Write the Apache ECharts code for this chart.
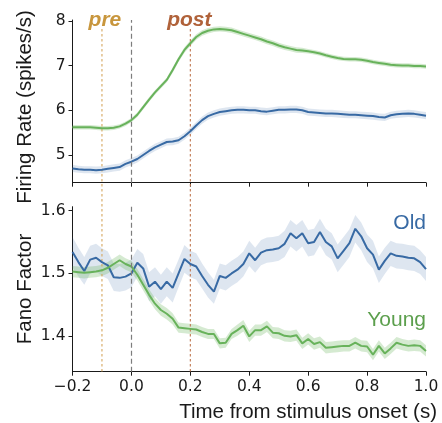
<!DOCTYPE html>
<html>
<head>
<meta charset="utf-8">
<script src="https://cdn.jsdelivr.net/npm/echarts@6/dist/echarts.min.js"></script>
<style>
  html, body { margin: 0; padding: 0; background: #ffffff; }
  #chart { width: 442px; height: 423px; }
</style>
</head>
<body>
<div id="chart"></div>
<script>
// Time bins (s) relative to stimulus onset
const time = [
  -0.20, -0.18, -0.16, -0.14, -0.12, -0.10, -0.08, -0.06, -0.04, -0.02,
   0.00,  0.02,  0.04,  0.06,  0.08,  0.10,  0.12,  0.14,  0.16,  0.18,
   0.20,  0.22,  0.24,  0.26,  0.28,  0.30,  0.32,  0.34,  0.36,  0.38,
   0.40,  0.42,  0.44,  0.46,  0.48,  0.50,  0.52,  0.54,  0.56,  0.58,
   0.60,  0.62,  0.64,  0.66,  0.68,  0.70,  0.72,  0.74,  0.76,  0.78,
   0.80,  0.82,  0.84,  0.86,  0.88,  0.90,  0.92,  0.94,  0.96,  0.98, 1.00
];

// Firing rate (spikes/s), mean and s.e.m.
const rateYoung = [
  5.62, 5.62, 5.62, 5.62, 5.61, 5.60, 5.60, 5.61, 5.64, 5.70,
  5.78, 5.90, 6.07, 6.24, 6.40, 6.54, 6.68, 6.90, 7.14, 7.35,
  7.50, 7.64, 7.73, 7.78, 7.81, 7.82, 7.81, 7.79, 7.75, 7.71,
  7.67, 7.63, 7.59, 7.54, 7.50, 7.45, 7.41, 7.38, 7.35, 7.34,
  7.32, 7.30, 7.27, 7.23, 7.20, 7.17, 7.15, 7.14, 7.14, 7.13,
  7.11, 7.08, 7.06, 7.04, 7.02, 7.01, 7.00, 7.00, 6.99, 6.99, 6.98
];
const rateYoungSem = [
  0.05, 0.05, 0.05, 0.05, 0.05, 0.05, 0.05, 0.05, 0.05, 0.05,
  0.05, 0.05, 0.05, 0.05, 0.05, 0.05, 0.05, 0.06, 0.06, 0.06,
  0.06, 0.06, 0.06, 0.06, 0.06, 0.06, 0.06, 0.06, 0.06, 0.06,
  0.06, 0.06, 0.06, 0.06, 0.06, 0.06, 0.06, 0.06, 0.06, 0.06,
  0.05, 0.05, 0.05, 0.05, 0.05, 0.05, 0.05, 0.05, 0.05, 0.05,
  0.05, 0.05, 0.05, 0.05, 0.05, 0.05, 0.05, 0.05, 0.05, 0.05, 0.05
];
const rateOld = [
  4.70, 4.68, 4.67, 4.67, 4.66, 4.67, 4.69, 4.71, 4.73, 4.80,
  4.85, 4.91, 5.00, 5.09, 5.17, 5.23, 5.29, 5.30, 5.33, 5.42,
  5.53, 5.66, 5.78, 5.87, 5.92, 5.96, 5.98, 6.00, 6.01, 6.01,
  6.00, 6.00, 5.98, 5.97, 5.99, 6.01, 6.01, 6.02, 6.02, 6.00,
  5.96, 5.95, 5.94, 5.93, 5.93, 5.92, 5.91, 5.90, 5.90, 5.89,
  5.88, 5.87, 5.85, 5.84, 5.89, 5.91, 5.92, 5.93, 5.92, 5.90, 5.88
];
const rateOldSem = [
  0.08, 0.08, 0.08, 0.08, 0.08, 0.08, 0.08, 0.08, 0.08, 0.08,
  0.08, 0.08, 0.08, 0.08, 0.08, 0.08, 0.08, 0.08, 0.08, 0.08,
  0.08, 0.08, 0.08, 0.08, 0.08, 0.08, 0.08, 0.08, 0.08, 0.08,
  0.08, 0.08, 0.08, 0.08, 0.08, 0.08, 0.08, 0.08, 0.08, 0.08,
  0.08, 0.08, 0.08, 0.08, 0.08, 0.08, 0.08, 0.08, 0.08, 0.08,
  0.08, 0.08, 0.08, 0.08, 0.08, 0.08, 0.08, 0.08, 0.08, 0.08, 0.08
];

// Fano factor, mean and s.e.m.
const fanoOld = [
  1.534, 1.518, 1.504, 1.522, 1.525, 1.518, 1.513, 1.494, 1.493, 1.495,
  1.500, 1.517, 1.508, 1.479, 1.487, 1.475, 1.487, 1.477, 1.500, 1.523,
  1.515, 1.511, 1.496, 1.482, 1.471, 1.496, 1.493, 1.500, 1.506, 1.515,
  1.532, 1.521, 1.533, 1.537, 1.538, 1.540, 1.547, 1.564, 1.556, 1.564,
  1.548, 1.550, 1.566, 1.550, 1.543, 1.524, 1.536, 1.548, 1.571, 1.559,
  1.540, 1.530, 1.506, 1.520, 1.532, 1.528, 1.527, 1.525, 1.524, 1.518, 1.507
];
const fanoOldSem = [
  0.024, 0.023, 0.022, 0.022, 0.022, 0.022, 0.022, 0.022, 0.022, 0.022,
  0.022, 0.022, 0.023, 0.023, 0.023, 0.023, 0.023, 0.023, 0.022, 0.022,
  0.021, 0.021, 0.020, 0.020, 0.019, 0.020, 0.020, 0.020, 0.020, 0.020,
  0.020, 0.020, 0.020, 0.020, 0.020, 0.020, 0.021, 0.021, 0.021, 0.021,
  0.021, 0.021, 0.021, 0.021, 0.021, 0.022, 0.022, 0.022, 0.022, 0.022,
  0.022, 0.022, 0.021, 0.021, 0.020, 0.020, 0.020, 0.020, 0.020, 0.019, 0.019
];
const fanoYoung = [
  1.503, 1.502, 1.501, 1.502, 1.503, 1.505, 1.509, 1.515, 1.521, 1.515,
  1.511, 1.498, 1.482, 1.466, 1.452, 1.442, 1.436, 1.428, 1.414, 1.413,
  1.412, 1.411, 1.407, 1.404, 1.404, 1.389, 1.390, 1.404, 1.410, 1.417,
  1.400, 1.410, 1.410, 1.416, 1.406, 1.405, 1.401, 1.400, 1.402, 1.389,
  1.396, 1.388, 1.391, 1.382, 1.383, 1.384, 1.385, 1.385, 1.390, 1.385,
  1.384, 1.371, 1.385, 1.373, 1.381, 1.390, 1.387, 1.385, 1.386, 1.385, 1.377
];
const fanoYoungSem = [
  0.009, 0.009, 0.009, 0.009, 0.009, 0.009, 0.009, 0.009, 0.009, 0.009,
  0.009, 0.009, 0.009, 0.009, 0.009, 0.009, 0.009, 0.009, 0.008, 0.008,
  0.008, 0.008, 0.008, 0.008, 0.008, 0.008, 0.008, 0.008, 0.009, 0.009,
  0.009, 0.009, 0.009, 0.009, 0.009, 0.009, 0.009, 0.009, 0.009, 0.009,
  0.009, 0.009, 0.009, 0.009, 0.009, 0.009, 0.009, 0.009, 0.009, 0.009,
  0.009, 0.009, 0.009, 0.009, 0.009, 0.009, 0.009, 0.009, 0.009, 0.009, 0.009
];

// Axis ranges and tick labels
const timeRange = [-0.2, 1.0];
const timeTicks = [-0.2, 0.0, 0.2, 0.4, 0.6, 0.8, 1.0];
const rateRange = [4.38, 8.02];
const rateTicks = [5, 6, 7, 8];
const fanoRange = [1.344, 1.606];
const fanoTicks = [1.4, 1.5, 1.6];

// Analysis windows and stimulus onset
const preTime = -0.1;
const postTime = 0.2;
const onsetTime = 0.0;

const BLUE = '#386aa4';
const GREEN = '#68b25b';
const BLUE_BAND = 'rgba(59,107,165,0.17)';
const GREEN_BAND = 'rgba(104,178,91,0.28)';
const INK = '#1a1a1a';
const TICK_FONT = 'DejaVu Sans';
const LABEL_FONT = '"Liberation Sans", Arial, sans-serif';

const chart = echarts.init(document.getElementById('chart'), null, { renderer: 'canvas' });

function pairs(values) {
  return time.map((t, i) => [t, values[i]]);
}

// Shaded mean ± s.e.m. band drawn as one polygon
function band(mean, sem, axisIdx, fill) {
  return {
    type: 'custom',
    xAxisIndex: axisIdx,
    yAxisIndex: axisIdx,
    silent: true,
    z: 1,
    data: pairs(mean),
    encode: { x: 0, y: 1 },
    renderItem(params, api) {
      if (params.dataIndex !== 0) return null;
      const upper = time.map((t, i) => api.coord([t, mean[i] + sem[i]]));
      const lower = time.map((t, i) => api.coord([t, mean[i] - sem[i]])).reverse();
      return {
        type: 'polygon',
        shape: { points: upper.concat(lower) },
        style: { fill: fill, stroke: null }
      };
    }
  };
}

function meanLine(values, axisIdx, color, withOnset) {
  const s = {
    type: 'line',
    xAxisIndex: axisIdx,
    yAxisIndex: axisIdx,
    data: pairs(values),
    showSymbol: false,
    symbol: 'none',
    silent: true,
    z: 3,
    lineStyle: { color: color, width: 2 },
    itemStyle: { color: color }
  };
  if (withOnset) {
    s.markLine = {
      silent: true,
      symbol: ['none', 'none'],
      label: { show: false },
      lineStyle: { color: '#7d7d7d', width: 1.2, type: [5, 3] },
      emphasis: { disabled: true },
      data: [{ xAxis: onsetTime }]
    };
  }
  return s;
}

const axisLine = { show: true, onZero: false, lineStyle: { color: INK, width: 1 } };
function ticks(values) {
  return { show: true, inside: false, length: 4, customValues: values, lineStyle: { color: INK, width: 1 } };
}
function labels(values, fmt, margin) {
  return {
    show: true, customValues: values, formatter: fmt, margin: margin,
    color: INK, fontFamily: TICK_FONT, fontSize: 15.5
  };
}
const fmtTime = v => (v < -1e-9 ? '\u2212' : '') + Math.abs(v).toFixed(1);

chart.setOption({
  animation: false,
  backgroundColor: '#ffffff',
  grid: [
    { left: 72.5, top: 20, width: 353.5, height: 162.7, containLabel: false, outerBoundsMode: 'none' },
    { left: 72.5, top: 206.7, width: 353.5, height: 165, containLabel: false, outerBoundsMode: 'none' }
  ],
  xAxis: [
    { type: 'value', gridIndex: 0, min: timeRange[0], max: timeRange[1],
      axisLine: axisLine, axisTick: ticks(timeTicks), axisLabel: { show: false }, splitLine: { show: false } },
    { type: 'value', gridIndex: 1, min: timeRange[0], max: timeRange[1],
      axisLine: axisLine, axisTick: ticks(timeTicks), axisLabel: labels(timeTicks, fmtTime, 7.5), splitLine: { show: false } }
  ],
  yAxis: [
    { type: 'value', gridIndex: 0, min: rateRange[0], max: rateRange[1],
      axisLine: axisLine, axisTick: ticks(rateTicks), axisLabel: labels(rateTicks, v => String(Math.round(v)), 7), splitLine: { show: false } },
    { type: 'value', gridIndex: 1, min: fanoRange[0], max: fanoRange[1],
      axisLine: axisLine, axisTick: ticks(fanoTicks), axisLabel: labels(fanoTicks, v => v.toFixed(1), 7), splitLine: { show: false } }
  ],
  series: [
    band(rateYoung, rateYoungSem, 0, GREEN_BAND),
    band(rateOld, rateOldSem, 0, BLUE_BAND),
    meanLine(rateYoung, 0, GREEN, true),
    meanLine(rateOld, 0, BLUE, false),
    band(fanoOld, fanoOldSem, 1, BLUE_BAND),
    band(fanoYoung, fanoYoungSem, 1, GREEN_BAND),
    meanLine(fanoOld, 1, BLUE, true),
    meanLine(fanoYoung, 1, GREEN, false)
  ]
});

// Window markers span both panels, so they are placed from the axis scales
const xPre = chart.convertToPixel({ xAxisIndex: 1 }, preTime);
const xPost = chart.convertToPixel({ xAxisIndex: 1 }, postTime);
const yTop = chart.convertToPixel({ yAxisIndex: 0 }, 7.82);
const yBottom = chart.convertToPixel({ yAxisIndex: 1 }, fanoRange[0]);

function windowLine(x, color) {
  return {
    type: 'line', silent: true, z: 2,
    shape: { x1: x, y1: yTop, x2: x, y2: yBottom },
    style: { stroke: color, lineWidth: 1.1, lineDash: [2.5, 2.5] }
  };
}
function text(str, x, y, opts) {
  return Object.assign({
    type: 'text', silent: true, z: 10, x: x, y: y,
    style: Object.assign({ text: str, fill: INK, font: '20.5px ' + LABEL_FONT, align: 'center', verticalAlign: 'middle' }, opts.style || {})
  }, opts.el || {});
}

chart.setOption({
  graphic: [
    windowLine(xPre, '#d6a75e'),
    windowLine(xPost, '#bf7750'),
    text('pre', xPre + 3, 20, { style: { fill: '#c8963d', font: 'italic bold 21px ' + LABEL_FONT } }),
    text('post', xPost - 1, 20, { style: { fill: '#b0623a', font: 'italic bold 21px ' + LABEL_FONT } }),
    text('Old', 426, 223.5, { style: { fill: BLUE, font: '21px ' + LABEL_FONT, align: 'right' } }),
    text('Young', 426, 320.5, { style: { fill: '#5c9f4d', font: '21px ' + LABEL_FONT, align: 'right' } }),
    text('Firing Rate (spikes/s)', 25, 107, { el: { rotation: Math.PI / 2 } }),
    text('Fano Factor', 25, 289, { el: { rotation: Math.PI / 2 } }),
    text('Time from stimulus onset (s)', 437, 412, { style: { align: 'right' } })
  ]
});
</script>
</body>
</html>
